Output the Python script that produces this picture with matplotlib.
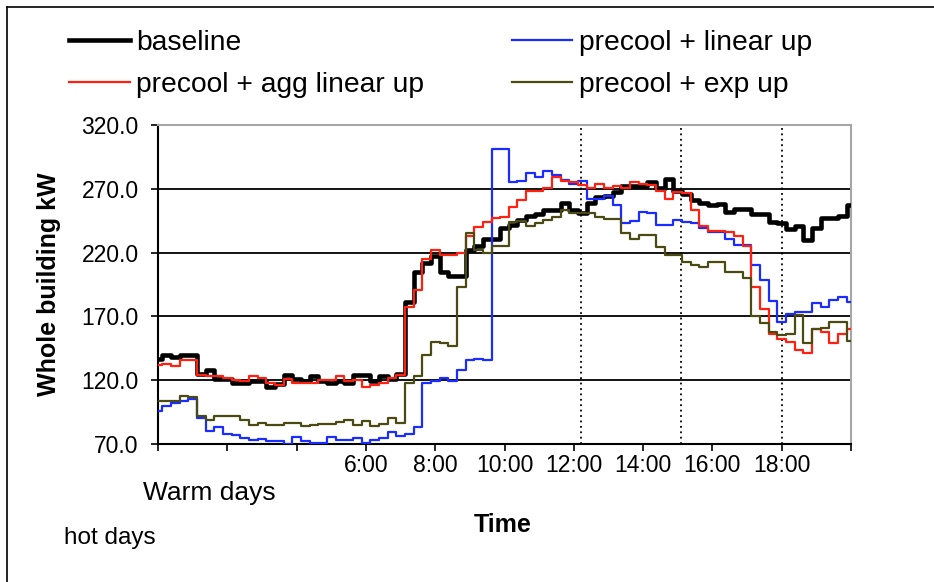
import numpy as np
import matplotlib
matplotlib.use("Agg")
import matplotlib.pyplot as plt
from matplotlib.lines import Line2D

plt.rcParams['font.family'] = ['Liberation Sans', 'DejaVu Sans']

# ---- data (15-minute samples, 0:00 .. 20:00) ----
hours = np.arange(0, 20.01, 0.25)

baseline = [137, 140, 138.5, 140,
            140, 125, 128, 121,
            121, 118, 117.5, 119,
            119, 115, 117, 124,
            121, 119, 123, 119,
            117.5, 119, 117.5, 124,
            124, 119, 123, 121,
            125, 181, 205, 212,
            217, 205, 202, 202,
            222, 225, 231, 231,
            239, 242, 245.5, 249,
            250, 253, 253, 259,
            253, 251, 258.5, 263.5,
            264.5, 267.5, 272, 272,
            272.5, 275, 271, 278,
            268, 266, 261.5, 258.5,
            257.5, 258, 252, 254,
            254, 250, 250, 244,
            243.5, 238.5, 240.5, 230,
            239, 247, 247.5, 249,
            257]

agg_linear_up = [132, 133, 131, 135.5,
                 135.5, 124, 123, 123,
                 122, 120, 119.5, 123,
                 122, 117.5, 116, 121,
                 118, 117.5, 117.5, 120,
                 120, 123, 119, 120,
                 115, 116, 117.5, 122,
                 124, 177.5, 191, 215,
                 222, 218, 218, 220,
                 233, 240, 244, 247,
                 248, 256, 261, 268.5,
                 268, 271, 279, 276.5,
                 275, 273, 271, 274,
                 271, 272, 270.5, 275,
                 274, 273, 268.5, 262,
                 267.5, 267, 253, 240.5,
                 237, 237, 236.5, 233,
                 225, 193, 176, 156.5,
                 152.5, 150, 144, 141,
                 160, 158, 149, 156,
                 160]

linear_up = [95.5, 100, 102, 104,
             105.5, 90, 80, 83.5,
             78, 77, 74.5, 73,
             74, 72, 72, 70,
             75.5, 72, 70.5, 70.5,
             75.5, 73, 73, 75,
             71, 73, 74.5, 79.5,
             76, 78, 83.5, 118,
             119, 122, 119, 128,
             136, 136.5, 136, 301.5,
             301.5, 275, 276, 282.5,
             279, 284, 280.5, 277,
             274, 276, 262, 262,
             264, 257, 243, 245,
             252, 251, 242, 241.5,
             245.5, 244, 243, 239,
             236.5, 236.5, 231, 226,
             226, 210, 198.5, 182,
             166, 172, 173.5, 173.5,
             180.5, 177.5, 183, 185.5,
             181]

exp_up = [103.5, 103.5, 103.5, 108,
          107, 92, 88.5, 92,
          92, 92, 89, 85,
          86.5, 85, 85, 86.5,
          86.5, 84, 84.5, 85.5,
          86, 87.5, 89, 85,
          88, 84, 86, 90,
          86.5, 118, 123, 140,
          150, 149.5, 147, 193,
          235, 222, 220, 225,
          225.5, 244, 245, 241,
          243, 245.5, 248, 253,
          251, 251, 251, 248,
          246, 246, 235, 231,
          233.5, 233.5, 224, 218.5,
          218.5, 213, 210.5, 209,
          213, 213, 205, 205,
          200, 170, 164.5, 157.5,
          155.5, 156, 171, 149,
          160.5, 161, 165.5, 165.5,
          151]

x_ticks = [0, 2, 4, 6, 8, 10, 12, 14, 16, 18, 20]
x_tick_labels = ['', '', '', '6:00', '8:00', '10:00', '12:00', '14:00', '16:00', '18:00', '']
y_ticks = [70, 120, 170, 220, 270, 320]
y_tick_labels = ['70.0', '120.0', '170.0', '220.0', '270.0', '320.0']
marker_hours = [12.2, 15.1, 18.0]

# ---- figure ----
W, H = 934, 582
fig = plt.figure(figsize=(W / 100, H / 100), dpi=100)
ax = fig.add_axes([158 / W, 1 - 444 / H, (851 - 158) / W, (444 - 125) / H])

ax.yaxis.grid(True, color='black', linewidth=1.3)
ax.set_axisbelow(True)

for xv in marker_hours:
    ax.axvline(xv, color='black', linestyle=(0, (1, 2)), linewidth=1.3, zorder=1.5)

h_base, = ax.plot(hours, baseline, color='black', lw=3.3, drawstyle='steps-mid',
                  label='baseline', zorder=3)
h_blue, = ax.plot(hours, linear_up, color='#1a2cff', lw=1.6, drawstyle='steps-mid',
                  label='precool + linear up', zorder=3)
h_red, = ax.plot(hours, agg_linear_up, color='#ff2010', lw=1.6, drawstyle='steps-mid',
                 label='precool + agg linear up', zorder=3)
h_olive, = ax.plot(hours, exp_up, color='#4a4a12', lw=1.6, drawstyle='steps-mid',
                   label='precool + exp up', zorder=3)

ax.set_xlim(0, 20)
ax.set_ylim(70, 320)
ax.set_xticks(x_ticks)
ax.set_xticklabels(x_tick_labels)
ax.set_yticks(y_ticks)
ax.set_yticklabels(y_tick_labels)
ax.tick_params(axis='both', direction='out', length=5, width=1.2, color='black',
               labelsize=16.5)
ax.tick_params(axis='y', pad=9)
ax.tick_params(axis='x', pad=2)

for s in ['left', 'bottom']:
    ax.spines[s].set_color('black')
    ax.spines[s].set_linewidth(1.5)
for s in ['top', 'right']:
    ax.spines[s].set_color('#a6a6a6')
    ax.spines[s].set_linewidth(1.5)

ax.set_ylabel('Whole building kW', fontsize=18, fontweight='bold')
ax.yaxis.set_label_coords((61 - 158) / (851 - 158), 0.5)
ax.set_xlabel('Time', fontsize=18, fontweight='bold')
ax.xaxis.set_label_coords((503 - 158) / (851 - 158), -(513 - 444) / (444 - 125))

fig.text(209 / W, 1 - 493 / H, 'Warm days', fontsize=19, ha='center', va='center')
fig.text(110 / W, 1 - 538 / H, 'hot days', fontsize=17.5, ha='center', va='center')

fig.legend(handles=[h_base, h_red, h_blue, h_olive],
           labels=['baseline', 'precool + agg linear up', 'precool + linear up', 'precool + exp up'],
           ncol=2, loc='upper left', bbox_to_anchor=(69 / W, 1 - 30 / H),
           frameon=False, fontsize=20.3, handlelength=2.16, handletextpad=0.22,
           columnspacing=3.1, labelspacing=0.58, borderpad=0, borderaxespad=0)

fig.add_artist(Line2D([7 / W, 7 / W], [0, 1 - 6.5 / H], transform=fig.transFigure,
                      color='black', lw=1.2))
fig.add_artist(Line2D([7 / W, 1], [1 - 6.5 / H, 1 - 6.5 / H], transform=fig.transFigure,
                      color='black', lw=1.2))

fig.savefig('out.png', dpi=100, facecolor='white')
